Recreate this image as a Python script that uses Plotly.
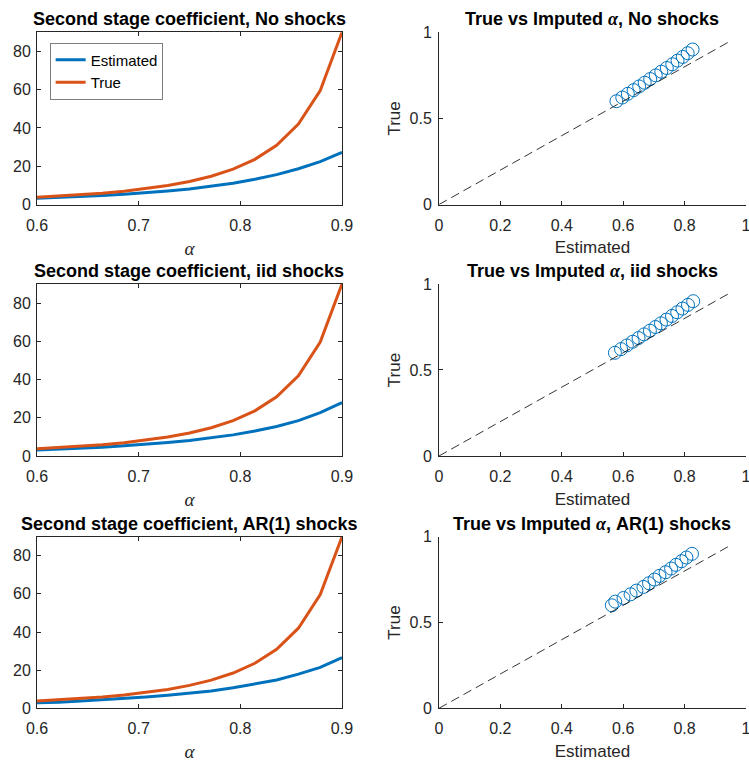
import plotly.graph_objects as go

# alpha grid (true values)
alpha_true = [0.6000, 0.6214, 0.6429, 0.6643, 0.6857, 0.7071, 0.7286, 0.7500,
              0.7714, 0.7929, 0.8143, 0.8357, 0.8571, 0.8786, 0.9000]

# true second stage coefficient
coef_true = [3.75, 4.34, 5.04, 5.89, 6.94, 8.24, 9.89, 12.00,
             14.77, 18.48, 23.61, 30.96, 42.00, 59.60, 90.00]

# estimated second stage coefficients per shock process
coef_est_none = [3.25, 3.68, 4.15, 4.73, 5.38, 6.15, 7.07, 8.17,
                 9.50, 11.15, 13.19, 15.62, 18.71, 22.44, 27.28]
coef_est_iid = [3.14, 3.58, 4.07, 4.63, 5.31, 6.06, 7.01, 8.10,
                9.42, 11.05, 13.07, 15.47, 18.51, 22.70, 27.99]
coef_est_ar1 = [2.95, 3.16, 3.78, 4.41, 5.05, 5.97, 6.85, 7.91,
                9.03, 10.75, 12.70, 14.85, 17.91, 21.42, 26.60]

# imputed alpha per shock process
alpha_est_none = [0.578, 0.597, 0.615, 0.634, 0.652, 0.670, 0.688, 0.706,
                  0.724, 0.742, 0.760, 0.777, 0.794, 0.810, 0.826]
alpha_est_iid = [0.573, 0.593, 0.612, 0.631, 0.650, 0.668, 0.687, 0.705,
                 0.723, 0.741, 0.759, 0.776, 0.793, 0.811, 0.828]
alpha_est_ar1 = [0.563, 0.574, 0.601, 0.624, 0.643, 0.666, 0.684, 0.702,
                 0.718, 0.738, 0.756, 0.772, 0.790, 0.806, 0.824]

# 45-degree reference line
diag_x = [0, 0.95]
diag_y = [0, 0.95]

shock_names = ["No shocks", "iid shocks", "AR(1) shocks"]
coef_est = [coef_est_none, coef_est_iid, coef_est_ar1]
alpha_est = [alpha_est_none, alpha_est_iid, alpha_est_ar1]

BLUE = "#0072BD"
ORANGE = "#D95319"
AXC = "#262626"
SANS = "Liberation Sans, Arial, Helvetica, sans-serif"
SERIF = "Liberation Serif, Times New Roman, serif"

left_dom = [0.0494, 0.4566]
right_dom = [0.5861, 0.9960]
row_dom = [[0.7316, 0.9576], [0.4016, 0.6273], [0.0705, 0.2957]]


def ax_id(n):
    return "" if n == 1 else str(n)


fig = go.Figure()
annotations = []

for r in range(3):
    nl = 2 * r + 1
    nr = 2 * r + 2
    xl, yl = "x" + ax_id(nl), "y" + ax_id(nl)
    xr, yr = "x" + ax_id(nr), "y" + ax_id(nr)

    fig.add_trace(go.Scatter(x=alpha_true, y=coef_est[r], mode="lines",
                             line=dict(color=BLUE, width=3), name="Estimated",
                             showlegend=(r == 0), xaxis=xl, yaxis=yl))
    fig.add_trace(go.Scatter(x=alpha_true, y=coef_true, mode="lines",
                             line=dict(color=ORANGE, width=3), name="True",
                             showlegend=(r == 0), xaxis=xl, yaxis=yl))

    fig.add_trace(go.Scatter(x=alpha_est[r], y=alpha_true, mode="markers",
                             marker=dict(symbol="circle-open", size=13,
                                         color=BLUE, line=dict(width=1)),
                             showlegend=False, xaxis=xr, yaxis=yr))
    fig.add_trace(go.Scatter(x=diag_x, y=diag_y, mode="lines",
                             line=dict(color="black", width=0.8, dash="9px,5px"),
                             showlegend=False, xaxis=xr, yaxis=yr))

    common = dict(showline=True, linecolor=AXC, linewidth=1, ticks="inside",
                  ticklen=4, tickcolor=AXC, showgrid=False, zeroline=False,
                  automargin=False, ticklabeloverflow="allow",
                  tickfont=dict(family=SANS, size=16, color=AXC))

    fig.update_layout({
        "xaxis" + ax_id(nl): dict(domain=left_dom, anchor=yl, range=[0.6, 0.9],
                                  tickvals=[0.6, 0.7, 0.8, 0.9], mirror="ticks",
                                  ticklabelstandoff=6,
                                  title=dict(text="<i>α</i>", standoff=8,
                                             font=dict(family=SERIF, size=19, color=AXC)),
                                  **common),
        "yaxis" + ax_id(nl): dict(domain=row_dom[r], anchor=xl, range=[0, 90],
                                  tickvals=[0, 20, 40, 60, 80], mirror="ticks",
                                  ticklabelstandoff=2, **common),
        "xaxis" + ax_id(nr): dict(domain=right_dom, anchor=yr, range=[0, 1],
                                  tickvals=[0, 0.2, 0.4, 0.6, 0.8, 1],
                                  ticktext=["0", "0.2", "0.4", "0.6", "0.8", "1"],
                                  ticklabelstandoff=6,
                                  title=dict(text="Estimated", standoff=8,
                                             font=dict(family=SANS, size=17, color=AXC)),
                                  **common),
        "yaxis" + ax_id(nr): dict(domain=row_dom[r], anchor=xr, range=[0, 1],
                                  tickvals=[0, 0.5, 1], ticktext=["0", "0.5", "1"],
                                  ticklabelstandoff=3,
                                  title=dict(text="True", standoff=4,
                                             font=dict(family=SANS, size=17, color=AXC)),
                                  **common),
    })

    annotations.append(dict(
        text=f"<b>Second stage coefficient, {shock_names[r]}</b>",
        xref=f"{xl} domain", yref=f"{yl} domain", x=0.5, y=1,
        xanchor="center", yanchor="bottom", yshift=1, showarrow=False,
        font=dict(family=SANS, size=18, color="black")))
    annotations.append(dict(
        text=f"<b>True vs Imputed </b><b><i style='font-family:{SERIF}'>α</i>, {shock_names[r]}</b>",
        xref=f"{xr} domain", yref=f"{yr} domain", x=0.5, y=1,
        xanchor="center", yanchor="bottom", yshift=1, showarrow=False,
        font=dict(family=SANS, size=18, color="black")))

fig.update_layout(
    width=749, height=762,
    margin=dict(l=0, r=0, t=0, b=0, autoexpand=False),
    paper_bgcolor="white", plot_bgcolor="white",
    annotations=annotations,
    legend=dict(x=0.0668, y=0.9436, xanchor="left", yanchor="top",
                bgcolor="white", bordercolor=AXC, borderwidth=0.6,
                font=dict(family=SANS, size=15, color="black"),
                tracegroupgap=0),
)

fig.write_html("out.html")
